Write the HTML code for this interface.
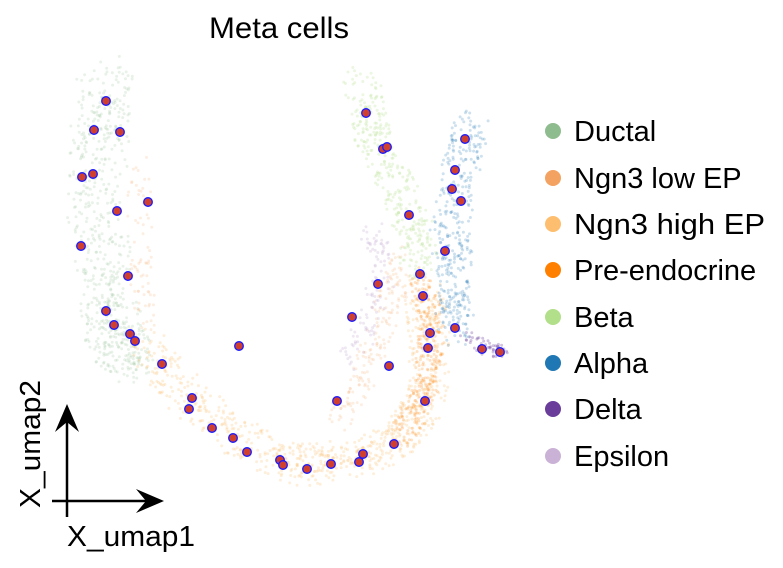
<!DOCTYPE html>
<html><head><meta charset="utf-8"><style>
html,body{margin:0;padding:0;background:#fff;width:783px;height:568px;overflow:hidden}
svg{display:block;font-family:"Liberation Sans",Arial,sans-serif}
</style></head><body>
<svg id="s" width="783" height="568" viewBox="0 0 783 568">
<g id="bg"></g>
<g id="fg"></g>
<text x="279" y="38" font-size="30" text-anchor="middle" textLength="140" lengthAdjust="spacingAndGlyphs">Meta cells</text>
<g font-size="29">
<circle cx="553" cy="131" r="8" fill="#8fbc8f"/><text x="574" y="141">Ductal</text>
<circle cx="553" cy="178" r="8" fill="#f4a261"/><text x="574" y="188">Ngn3 low EP</text>
<circle cx="553" cy="224" r="8" fill="#fdbf6f"/><text x="574" y="234" textLength="191" lengthAdjust="spacingAndGlyphs">Ngn3 high EP</text>
<circle cx="553" cy="270" r="8" fill="#ff7f00"/><text x="574" y="280">Pre-endocrine</text>
<circle cx="553" cy="317" r="8" fill="#b2df8a"/><text x="574" y="327">Beta</text>
<circle cx="553" cy="363" r="8" fill="#1f78b4"/><text x="574" y="373">Alpha</text>
<circle cx="553" cy="409" r="8" fill="#6a3d9a"/><text x="574" y="419">Delta</text>
<circle cx="553" cy="456" r="8" fill="#cab2d6"/><text x="574" y="466">Epsilon</text>
</g>
<g stroke="#000" stroke-width="2.5" fill="none">
<line x1="67" y1="517" x2="67" y2="412"/>
<line x1="52" y1="501" x2="158" y2="501"/>
</g>
<path d="M67 404 L79 432 L67 422 L55 432 Z" fill="#000"/>
<path d="M164 501 L136 489 L146 501 L136 513 Z" fill="#000"/>
<text x="67" y="546" font-size="29" textLength="128" lengthAdjust="spacingAndGlyphs">X_umap1</text>
<text transform="translate(40,508) rotate(-90)" font-size="29" textLength="128" lengthAdjust="spacingAndGlyphs">X_umap2</text>
</svg>
<script>
var seed=7;function r(){seed=(seed*16807)%2147483647;return seed/2147483647;}
var NS="http://www.w3.org/2000/svg",bg=document.getElementById("bg"),fg=document.getElementById("fg");
function dot(g,x,y,rad,fill,op,stroke){var c=document.createElementNS(NS,"circle");c.setAttribute("cx",x.toFixed(1));c.setAttribute("cy",y.toFixed(1));c.setAttribute("r",rad);c.setAttribute("fill",fill);if(op)c.setAttribute("fill-opacity",op);if(stroke){c.setAttribute("stroke",stroke);c.setAttribute("stroke-width",1.3);}g.appendChild(c);}
function path(pts,w,n,col,op){for(var i=0;i<n;i++){var t=r()*(pts.length-1),k=Math.floor(t),f=t-k;if(k>=pts.length-1){k=pts.length-2;f=1;}
var x=pts[k][0]+(pts[k+1][0]-pts[k][0])*f,y=pts[k][1]+(pts[k+1][1]-pts[k][1])*f;var a=r()*6.283,d=Math.sqrt(r())*w;dot(bg,x+Math.cos(a)*d,y+Math.sin(a)*d,1.5,col,op);}}
path([[105,80],[100,130],[95,200],[105,280],[115,340],[130,360]],30,650,"#8fbc8f",0.2);
path([[140,160],[140,260],[145,330]],14,80,"#f4a261",0.18);
path([[145,345],[190,400],[240,440],[300,465],[350,460],[400,440],[425,400],[430,340],[420,290]],22,800,"#fdbf6f",0.25);
path([[400,440],[425,390],[432,330],[420,280]],14,300,"#ff7f00",0.22);
path([[340,420],[370,360],[390,300],[400,260]],16,180,"#f4a261",0.18);
path([[362,80],[370,130],[395,180],[415,230],[420,270]],20,350,"#b2df8a",0.25);
path([[470,125],[460,170],[450,230],[455,290],[455,330]],20,380,"#1f78b4",0.22);
path([[370,230],[385,270],[370,320],[350,360]],14,110,"#cab2d6",0.3);
path([[465,335],[485,348],[505,352]],8,50,"#6a3d9a",0.3);
var M=[[106,101],[94,130],[120,132],[82,177],[93,174],[117,211],[148,202],[81,246],[128,276],[106,311],[114,325],[130,334],[135,341],[162,364],[239,346],[192,398],[189,409],[212,428],[233,438],[247,452],[280,460],[283,465],[307,469],[331,464],[359,462],[363,454],[394,444],[337,401],[389,366],[352,317],[378,284],[366,113],[383,149],[387,147],[409,215],[420,274],[423,296],[430,333],[428,348],[425,401],[465,139],[455,170],[452,189],[461,201],[445,251],[455,328],[482,349],[500,352]];
M.forEach(function(p){dot(fg,p[0],p[1],4.3,"#d0402f",null,"#1a1aff");});
</script>
</body></html>
